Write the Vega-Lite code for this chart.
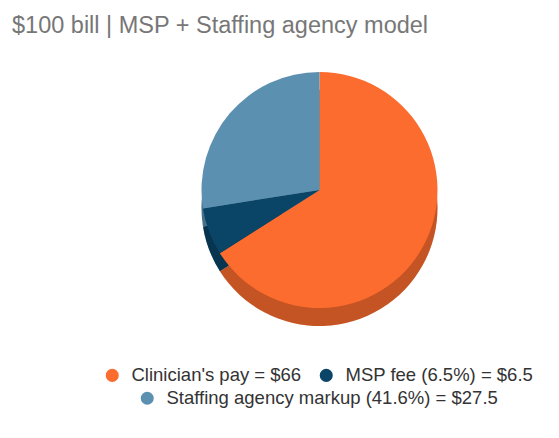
{
  "$schema": "https://vega.github.io/schema/vega-lite/v6.json",
  "title": {
    "text": "$100 bill | MSP + Staffing agency model",
    "anchor": "start",
    "dx": -78,
    "dy": 5,
    "fontSize": 23.5,
    "font": "Liberation Sans",
    "fontWeight": "normal",
    "color": "#777777"
  },
  "autosize": {"type": "none"},
  "padding": {"left": 90, "top": 36, "right": 10, "bottom": 94},
  "width": 459,
  "height": 308,
  "background": "white",
  "view": {"stroke": null},
  "data": {
    "values": [
      {"label": "Clinician's pay = $66", "value": 66, "order": 1},
      {"label": "MSP fee (6.5%) = $6.5", "value": 6.5, "order": 2},
      {"label": "Staffing agency markup (41.6%) = $27.5", "value": 27.5, "order": 3}
    ]
  },
  "layer": [
    {
      "mark": {"type": "arc", "outerRadius": 118, "yOffset": 18, "stroke": null},
      "encoding": {
        "theta": {"field": "value", "type": "quantitative", "stack": true},
        "order": {"field": "order", "type": "quantitative"},
        "fill": {
          "field": "label",
          "type": "nominal",
          "scale": {
            "domain": ["Staffing agency markup (41.6%) = $27.5", "Clinician's pay = $66", "MSP fee (6.5%) = $6.5"],
            "range": ["#5b90b0", "#fb6c2e", "#0a4466"]
          },
          "legend": {
            "values": ["Staffing agency markup (41.6%) = $27.5"],
            "orient": "none",
            "legendX": 48,
            "legendY": 353,
            "title": null,
            "padding": 0,
            "symbolType": "circle",
            "symbolSize": 170,
            "symbolStrokeWidth": 0,
            "labelFont": "Liberation Sans",
            "labelFontSize": 18.5,
            "labelColor": "#333333",
            "labelOffset": 10,
            "labelLimit": 0
          }
        }
      }
    },
    {
      "mark": {"type": "arc", "outerRadius": 118, "yOffset": 18, "fill": "black", "opacity": 0.22, "stroke": null},
      "encoding": {
        "theta": {"field": "value", "type": "quantitative", "stack": true},
        "order": {"field": "order", "type": "quantitative"}
      }
    },
    {
      "mark": {"type": "arc", "outerRadius": 118, "stroke": null},
      "encoding": {
        "theta": {"field": "value", "type": "quantitative", "stack": true},
        "order": {"field": "order", "type": "quantitative"},
        "color": {
          "field": "label",
          "type": "nominal",
          "scale": {
            "domain": ["Clinician's pay = $66", "MSP fee (6.5%) = $6.5", "Staffing agency markup (41.6%) = $27.5"],
            "range": ["#fb6c2e", "#0a4466", "#5b90b0"]
          },
          "legend": {
            "values": ["Clinician's pay = $66", "MSP fee (6.5%) = $6.5"],
            "orient": "none",
            "direction": "horizontal",
            "legendX": 13,
            "legendY": 330,
            "title": null,
            "padding": 0,
            "columnPadding": 15,
            "symbolType": "circle",
            "symbolSize": 170,
            "symbolStrokeWidth": 0,
            "labelFont": "Liberation Sans",
            "labelFontSize": 18.5,
            "labelColor": "#333333",
            "labelOffset": 10,
            "labelLimit": 0
          }
        }
      }
    }
  ]
}
